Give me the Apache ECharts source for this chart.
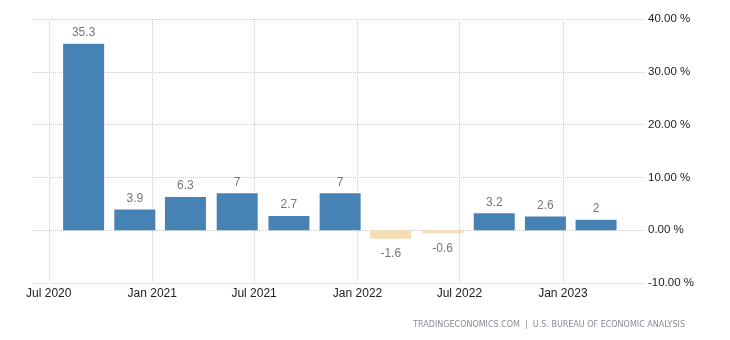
<!DOCTYPE html>
<html>
<head>
<meta charset="utf-8">
<script src="https://cdn.jsdelivr.net/npm/echarts@6/dist/echarts.min.js"></script>
<style>html,body{margin:0;padding:0;background:#fff}#c{width:730px;height:340px}</style>
</head>
<body>
<div id="c"></div>
<script>
// Quarterly values (bars plotted at the month before quarter end, as in the source)
const dates = ['2020-09-01','2020-12-01','2021-03-01','2021-06-01','2021-09-01','2021-12-01','2022-03-01','2022-06-01','2022-09-01','2022-12-01','2023-03-01'];
const values = [35.3, 3.9, 6.3, 7, 2.7, 7, -1.6, -0.6, 3.2, 2.6, 2];
const xTickLabels = ['Jul 2020','Jan 2021','Jul 2021','Jan 2022','Jul 2022','Jan 2023'];
const yTicks = [-10, 0, 10, 20, 30, 40];
const monthNames = ['Jan','Feb','Mar','Apr','May','Jun','Jul','Aug','Sep','Oct','Nov','Dec'];

const ts = d => { const p = d.split('-').map(Number); return Date.UTC(p[0], p[1]-1, p[2]); };

// Visible time window, and compensation for the half-bar padding ECharts v6 adds
const GRID_LEFT = 33, GRID_RIGHT = 85, W = 730, BAR_W = 41;
const L = W - GRID_LEFT - GRID_RIGHT;
const A = ts('2020-06-03'), B = ts('2023-05-27');
const pad = (B - A) * (BAR_W / 2) / L;

const chart = echarts.init(document.getElementById('c'));
chart.setOption({
  animation: false,
  textStyle: {fontFamily: 'Liberation Sans, Arial, sans-serif'},
  grid: {left: GRID_LEFT, right: GRID_RIGHT, top: 19, bottom: 57, containLabel: false},
  xAxis: {
    type: 'time',
    min: A + pad,
    max: B - pad,
    axisLine: {show: false},
    axisTick: {show: false},
    splitLine: {show: true, showMinLine: false, showMaxLine: false, lineStyle: {color: '#ccc', type: 'dotted'}},
    axisLabel: {
      color: '#222', fontSize: 12, margin: 5,
      showMinLabel: false, showMaxLabel: false,
      formatter: v => {
        const d = new Date(v);
        const s = monthNames[d.getUTCMonth()] + ' ' + d.getUTCFullYear();
        return xTickLabels.indexOf(s) >= 0 && d.getUTCDate() === 1 ? s : '';
      }
    }
  },
  yAxis: {
    type: 'value',
    position: 'right',
    min: yTicks[0], max: yTicks[yTicks.length-1], interval: 10,
    axisLine: {show: false},
    axisTick: {show: false},
    splitLine: {show: true, lineStyle: {color: '#ccc', type: 'dotted'}},
    axisLabel: {color: '#222', fontSize: 11.5, margin: 3, formatter: v => v.toFixed(2) + ' %'}
  },
  series: [{
    type: 'bar',
    barWidth: BAR_W,
    data: dates.map((d, i) => ({
      value: [ts(d), values[i]],
      itemStyle: {color: values[i] >= 0 ? '#4682b4' : '#f5deb3'},
      label: {show: true, position: values[i] >= 0 ? 'top' : 'bottom', distance: values[i] >= 0 ? 5 : 9}
    })),
    label: {color: '#777', fontSize: 12, formatter: p => String(p.value[1])}
  }],
  graphic: [{
    type: 'text', right: 45, top: 321,
    style: {text: 'TRADINGECONOMICS.COM  |  U.S. BUREAU OF ECONOMIC ANALYSIS', fill: '#8a8a96', fontSize: 8, fontFamily: 'DejaVu Sans, sans-serif'}
  }]
});
</script>
</body>
</html>
